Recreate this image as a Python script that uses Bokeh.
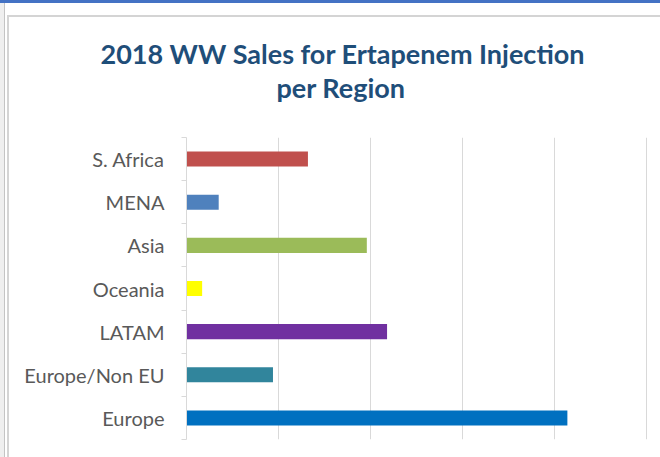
from bokeh.plotting import figure
from bokeh.models import Range1d, FixedTicker, Title, ColumnDataSource
from bokeh.embed import file_html
from bokeh.resources import INLINE

# ---- data (bottom to top) ----
regions = ["Europe", "Europe/Non EU", "LATAM", "Oceania", "Asia", "MENA", "S. Africa"]
sales = [4.14, 0.94, 2.18, 0.17, 1.96, 0.35, 1.32]
colors = ["#0070C0", "#31859C", "#7030A0", "#FFFF00", "#9BBB59", "#4F81BD", "#C0504D"]
x_ticks = [0, 1, 2, 3, 4, 5]
title_lines = ["2018 WW Sales for Ertapenem Injection", "per Region"]

pos = [i + 0.5 for i in range(len(regions))]
src = ColumnDataSource(dict(y=pos, v=sales, c=colors, name=regions))

p = figure(width=660, height=457, output_backend="svg", toolbar_location=None,
           title_location=None,
           x_range=Range1d(0, 5 + 2 / 92), y_range=Range1d(0, len(regions)),
           min_border_left=186, min_border_right=12, min_border_top=137,
           min_border_bottom=18)
p.outline_line_color = None
p.background_fill_color = "white"
p.border_fill_color = None
p.styles = {
    "background": (
        "linear-gradient(#4472C4,#4472C4) 0 0/100% 3px no-repeat,"
        "linear-gradient(#D4D4D4,#D4D4D4) 7px 15px/100% 2px no-repeat,"
        "linear-gradient(#D4D4D4,#D4D4D4) 7px 15px/2px 100% no-repeat,"
        "linear-gradient(#C4C4C4,#C4C4C4) 4px 3px/1px 100% no-repeat,"
        "linear-gradient(#EFEFEF,#EFEFEF) 0 3px/4px 100% no-repeat,"
        "white"
    )
}

p.hbar(y="y", right="v", left=0, height=0.35, fill_color="c", line_color=None, source=src)

p.xaxis.visible = False
p.xgrid.ticker = FixedTicker(ticks=x_ticks)
p.xgrid.grid_line_color = "#D9D9D9"
p.xgrid.grid_line_width = 1
p.ygrid.grid_line_color = None

ya = p.yaxis[0]
ya.ticker = FixedTicker(ticks=pos, minor_ticks=list(range(len(regions) + 1)))
ya.major_label_overrides = {pp: r for pp, r in zip(pos, regions)}
ya.major_tick_line_color = None
ya.major_tick_out = 0
ya.major_tick_in = 0
ya.minor_tick_line_color = "#D9D9D9"
ya.minor_tick_out = 5
ya.minor_tick_in = 0
ya.axis_line_color = "#D9D9D9"
ya.major_label_standoff = 17
ya.major_label_text_font = "Lato"
ya.major_label_text_font_size = "20px"
ya.major_label_text_color = "#595959"

# two-line title: titles stack upward from the frame, so add the 2nd line first
for txt, off, so in [(title_lines[1], 90, 68), (title_lines[0], -86, -71)]:
    t = Title(text=txt, align="left", offset=off, standoff=so, text_font="Lato",
              text_font_style="bold", text_font_size="27px", text_color="#1F4E79")
    p.add_layout(t, "above")

open("out.html", "w").write(file_html(p, INLINE))
